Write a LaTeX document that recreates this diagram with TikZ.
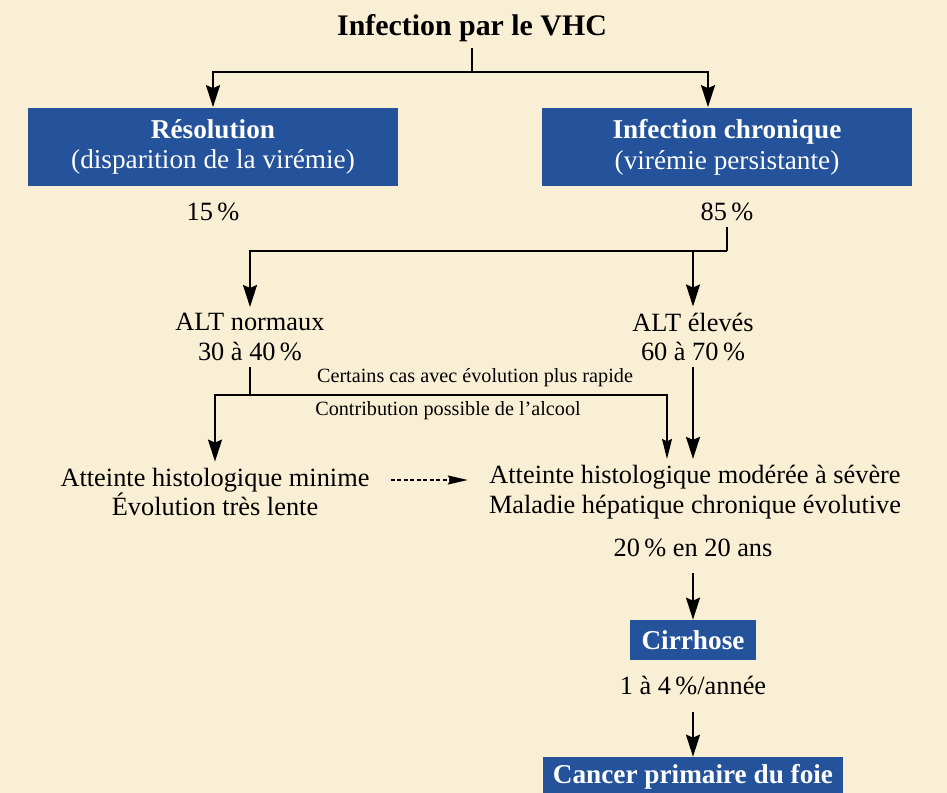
\documentclass[tikz,border=0pt]{standalone}
\usepackage{fontspec}
\setmainfont{Liberation Serif}
\usetikzlibrary{arrows.meta,positioning}
\definecolor{boxblue}{RGB}{36,82,155}
\definecolor{paper}{RGB}{249,239,213}
\tikzset{
  bluebox/.style={fill=boxblue, text=white, inner sep=0pt, align=center, font=\fontsize{15.5}{17.5}\selectfont},
  txt/.style={align=center, font=\fontsize{15}{17}\selectfont},
  note/.style={font=\fontsize{11.5}{13}\selectfont},
  bar/.style={line width=1.2pt},
  flow/.style={line width=1.2pt, -{Stealth[length=4.4mm, width=2.8mm, inset=0.6mm]}},
  fineflow/.style={line width=0.6pt, -{Stealth[length=4mm, width=2mm, inset=0.5mm]}},
  dashflow/.style={line width=0.7pt, dash pattern=on 0.8mm off 0.5mm, -{Stealth[length=4mm, width=1.8mm, inset=0.5mm]}}
}
\begin{document}
\begin{tikzpicture}[x=0.02cm, y=-0.02cm]
    \fill[paper] (0,0) rectangle (947,793);
    \useasboundingbox (0,0) rectangle (947,793);

    \node[font=\bfseries\fontsize{17}{19}\selectfont] (title) at (472,28) {Infection par le VHC};
    \node[bluebox, minimum width=7.4cm, minimum height=1.58cm] (resol) at (213,147) {\textbf{Résolution}\\(disparition de la virémie)};
    \node[bluebox, minimum width=7.4cm, minimum height=1.58cm] (chron) at (727,147) {\textbf{Infection chronique}\\(virémie persistante)};
    \node[txt] (pct15) at (213,212) {15\,\%};
    \node[txt] (pct85) at (727,212) {85\,\%};
    \coordinate (split1) at (472,72);
    \draw[bar] (title.south) -- (split1);
    \draw[flow] (split1) -| (resol.north);
    \draw[flow] (split1) -| ([xshift=-0.38cm]chron.north);

    \node[txt] (altn) at (250,337) {ALT normaux\\30 à 40\,\%};
    \node[txt] (alte) at (693,337) {ALT élevés\\60 à 70\,\%};
    \coordinate (split2) at (727,251);
    \draw[bar] (pct85.south) -- (split2);
    \draw[flow] (split2) -| (altn.north);
    \draw[flow] (split2) -| (alte.north);

    \node[txt] (mini) at (215,492) {Atteinte histologique minime\\Évolution très lente};
    \node[txt] (mod) at (695,492) {Atteinte histologique modérée à sévère\\Maladie hépatique chronique évolutive};
    \node[txt] (pct20) at (693,548) {20\,\% en 20 ans};
    \coordinate (split3) at (250,395);
    \draw[bar] (altn.south) -- (split3);
    \draw[flow] (split3) -| (mini.north);
    \draw[fineflow] (split3) -| ([xshift=-0.56cm]mod.north);
    \node[note] (fast) at (475,378) {Certains cas avec évolution plus rapide};
    \node[note] (alcool) at (448,411) {Contribution possible de l’alcool};
    \draw[flow] (alte.south) -- (alte.south |- mod.north);
    \draw[dashflow, shorten <=0.3cm, shorten >=0.3cm] ([yshift=0.24cm]mini.east) -- ([yshift=0.24cm]mod.west);

    \node[bluebox, minimum width=2.54cm, minimum height=0.8cm] (cirr) at (693,640) {\textbf{Cirrhose}};
    \node[txt] (pct14) at (693,686) {1 à 4\,\%/année};
    \node[bluebox, minimum width=6cm, minimum height=0.8cm] (cancer) at (693,777) {\textbf{Cancer primaire du foie}};
    \draw[flow, shorten <=0.2cm] (pct20.south) -- (cirr.north);
    \draw[flow, shorten <=0.2cm] (pct14.south) -- (cancer.north);
\end{tikzpicture}
\end{document}
